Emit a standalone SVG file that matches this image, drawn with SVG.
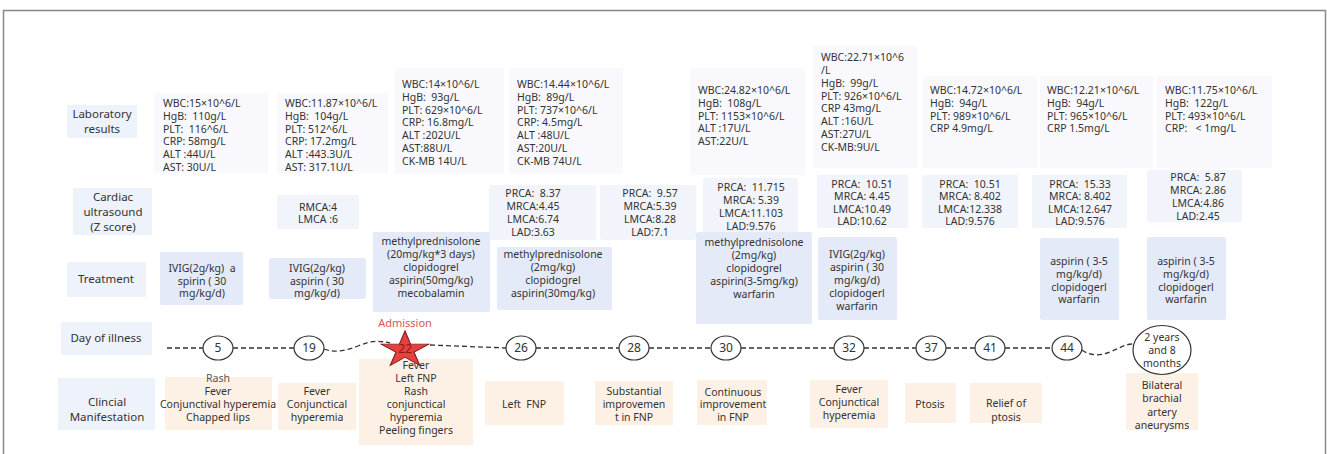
<svg xmlns="http://www.w3.org/2000/svg" width="1327" height="454" viewBox="0 0 1327 454">
<style>
text{font-family:"Noto Sans","Open Sans","Liberation Sans",sans-serif;fill:#333;white-space:pre}
.lbl{font-size:11.5px;text-anchor:middle}
.t{font-size:10.5px}
.c{font-size:10.5px;text-anchor:middle}
.lb{fill:#eef2fa}
.lab{fill:#f8f8fd}
.car{fill:#f2f4fb}
.trt{fill:#e4eaf8}
.man{fill:#fdf1e6}
.day{fill:#fff;stroke:#333;stroke-width:1.2}
.dn{font-size:12px;text-anchor:middle}
.dash{fill:none;stroke:#333;stroke-width:1.3;stroke-dasharray:5 3}
</style>
<rect x="3.5" y="10.5" width="1322" height="500" fill="none" stroke="#888" stroke-width="1.5"/>

<g id="label-lab"><rect class="lb" x="67" y="105" width="70" height="33"/><text class="lbl" x="102" y="118">Laboratory</text><text class="lbl" x="102" y="133">results</text></g>
<g id="label-cardiac"><rect class="lb" x="73" y="188" width="79" height="47"/><text class="lbl" x="113" y="201">Cardiac</text><text class="lbl" x="113" y="216">ultrasound</text><text class="lbl" x="113" y="231">(Z score)</text></g>
<g id="label-treatment"><rect class="lb" x="67" y="262" width="79" height="35"/><text class="lbl" x="106" y="283">Treatment</text></g>
<g id="label-day"><rect class="lb" x="61" y="322" width="91" height="33"/><text class="lbl" x="106" y="342">Day of illness</text></g>
<g id="label-clinical"><rect class="lb" x="58" y="378" width="97" height="52"/><text class="lbl" x="107" y="406">Clincial</text><text class="lbl" x="107" y="421">Manifestation</text></g>

<g id="lab-5"><rect class="lab" x="154" y="93" width="114" height="80"/><text class="t" x="163" y="107">WBC:15×10^6/L</text><text class="t" x="163" y="120">HgB:  110g/L</text><text class="t" x="163" y="133">PLT:  116^6/L</text><text class="t" x="163" y="145">CRP: 58mg/L</text><text class="t" x="163" y="158">ALT :44U/L</text><text class="t" x="163" y="171">AST: 30U/L</text></g>
<g id="lab-19"><rect class="lab" x="277" y="93" width="111" height="80"/><text class="t" x="285" y="107">WBC:11.87×10^6/L</text><text class="t" x="285" y="120">HgB:  104g/L</text><text class="t" x="285" y="133">PLT: 512^6/L</text><text class="t" x="285" y="145">CRP: 17.2mg/L</text><text class="t" x="285" y="158">ALT :443.3U/L</text><text class="t" x="285" y="171">AST: 317.1U/L</text></g>
<g id="lab-22"><rect class="lab" x="395" y="68" width="109" height="106"/><text class="t" x="402" y="88">WBC:14×10^6/L</text><text class="t" x="402" y="101">HgB:  93g/L</text><text class="t" x="402" y="114">PLT: 629×10^6/L</text><text class="t" x="402" y="126">CRP: 16.8mg/L</text><text class="t" x="402" y="139">ALT :202U/L</text><text class="t" x="402" y="152">AST:88U/L</text><text class="t" x="402" y="165">CK-MB 14U/L</text></g>
<g id="lab-26"><rect class="lab" x="509" y="68" width="114" height="106"/><text class="t" x="517" y="88">WBC:14.44×10^6/L</text><text class="t" x="517" y="101">HgB:  89g/L</text><text class="t" x="517" y="114">PLT: 737×10^6/L</text><text class="t" x="517" y="126">CRP: 4.5mg/L</text><text class="t" x="517" y="139">ALT :48U/L</text><text class="t" x="517" y="152">AST:20U/L</text><text class="t" x="517" y="165">CK-MB 74U/L</text></g>
<g id="lab-30"><rect class="lab" x="690" y="68" width="115" height="107"/><text class="t" x="698" y="94">WBC:24.82×10^6/L</text><text class="t" x="698" y="107">HgB:  108g/L</text><text class="t" x="698" y="120">PLT: 1153×10^6/L</text><text class="t" x="698" y="132">ALT :17U/L</text><text class="t" x="698" y="145">AST:22U/L</text></g>
<g id="lab-32"><rect class="lab" x="813" y="46" width="104" height="122"/><text class="t" x="821" y="61">WBC:22.71×10^6</text><text class="t" x="821" y="74">/L</text><text class="t" x="821" y="87">HgB:  99g/L</text><text class="t" x="821" y="100">PLT: 926×10^6/L</text><text class="t" x="821" y="112">CRP 43mg/L</text><text class="t" x="821" y="125">ALT :16U/L</text><text class="t" x="821" y="138">AST:27U/L</text><text class="t" x="821" y="151">CK-MB:9U/L</text></g>
<g id="lab-37"><rect class="lab" x="923" y="76" width="114" height="92"/><text class="t" x="930" y="94">WBC:14.72×10^6/L</text><text class="t" x="930" y="107">HgB:  94g/L</text><text class="t" x="930" y="120">PLT: 989×10^6/L</text><text class="t" x="930" y="132">CRP 4.9mg/L</text></g>
<g id="lab-44"><rect class="lab" x="1040" y="76" width="113" height="92"/><text class="t" x="1047" y="94">WBC:12.21×10^6/L</text><text class="t" x="1047" y="107">HgB:  94g/L</text><text class="t" x="1047" y="120">PLT: 965×10^6/L</text><text class="t" x="1047" y="132">CRP 1.5mg/L</text></g>
<g id="lab-2y8m"><rect class="lab" x="1157" y="76" width="115" height="92"/><text class="t" x="1165" y="94">WBC:11.75×10^6/L</text><text class="t" x="1165" y="107">HgB:  122g/L</text><text class="t" x="1165" y="120">PLT: 493×10^6/L</text><text class="t" x="1165" y="132">CRP:   &lt; 1mg/L</text></g>

<g id="car-19"><rect class="car" x="277" y="195" width="82" height="34" rx="2"/><text class="c" x="318" y="211">RMCA:4</text><text class="c" x="318" y="223">LMCA :6</text></g>
<g id="car-26"><rect class="car" x="489" y="185" width="107" height="55" rx="2"/><text class="c" x="533" y="197">PRCA:  8.37</text><text class="c" x="533" y="210">MRCA:4.45</text><text class="c" x="533" y="223">LMCA:6.74</text><text class="c" x="533" y="236">LAD:3.63</text></g>
<g id="car-28"><rect class="car" x="600" y="185" width="96" height="55" rx="2"/><text class="c" x="650" y="197">PRCA:  9.57</text><text class="c" x="650" y="210">MRCA:5.39</text><text class="c" x="650" y="223">LMCA:8.28</text><text class="c" x="650" y="236">LAD:7.1</text></g>
<g id="car-30"><rect class="car" x="703" y="178" width="95" height="58" rx="2"/><text class="c" x="751" y="191">PRCA:  11.715</text><text class="c" x="751" y="204">MRCA: 5.39</text><text class="c" x="751" y="217">LMCA:11.103</text><text class="c" x="751" y="230">LAD:9.576</text></g>
<g id="car-32"><rect class="car" x="817" y="175" width="91" height="53" rx="2"/><text class="c" x="862" y="188">PRCA:  10.51</text><text class="c" x="862" y="200">MRCA: 4.45</text><text class="c" x="862" y="213">LMCA:10.49</text><text class="c" x="862" y="225">LAD:10.62</text></g>
<g id="car-37"><rect class="car" x="922" y="175" width="96" height="53" rx="2"/><text class="c" x="970" y="188">PRCA:  10.51</text><text class="c" x="970" y="200">MRCA: 8.402</text><text class="c" x="970" y="213">LMCA:12.338</text><text class="c" x="970" y="225">LAD:9.576</text></g>
<g id="car-44"><rect class="car" x="1032" y="175" width="95" height="53" rx="2"/><text class="c" x="1080" y="188">PRCA:  15.33</text><text class="c" x="1080" y="200">MRCA: 8.402</text><text class="c" x="1080" y="213">LMCA:12.647</text><text class="c" x="1080" y="225">LAD:9.576</text></g>
<g id="car-2y8m"><rect class="car" x="1147" y="170" width="95" height="52" rx="2"/><text class="c" x="1198" y="181">PRCA:  5.87</text><text class="c" x="1198" y="194">MRCA: 2.86</text><text class="c" x="1198" y="207">LMCA:4.86</text><text class="c" x="1198" y="220">LAD:2.45</text></g>

<g id="trt-5"><rect class="trt" x="160" y="252" width="83" height="53" rx="2"/><text class="c" x="202" y="272">IVIG(2g/kg)  a</text><text class="c" x="202" y="285">spirin ( 30</text><text class="c" x="202" y="297">mg/kg/d)</text></g>
<g id="trt-19"><rect class="trt" x="269" y="258" width="97" height="41" rx="2"/><text class="c" x="317" y="272">IVIG(2g/kg)</text><text class="c" x="317" y="285">aspirin ( 30</text><text class="c" x="317" y="297">mg/kg/d)</text></g>
<g id="trt-22"><rect class="trt" x="373" y="232" width="117" height="80" rx="2"/><text class="c" x="431" y="245">methylprednisolone</text><text class="c" x="431" y="258">(20mg/kg*3 days)</text><text class="c" x="431" y="271">clopidogrel</text><text class="c" x="431" y="284">aspirin(50mg/kg)</text><text class="c" x="431" y="297">mecobalamin</text></g>
<g id="trt-26"><rect class="trt" x="497" y="247" width="115" height="63" rx="2"/><text class="c" x="553" y="258">methylprednisolone</text><text class="c" x="553" y="271">(2mg/kg)</text><text class="c" x="553" y="284">clopidogrel</text><text class="c" x="553" y="297">aspirin(30mg/kg)</text></g>
<g id="trt-30"><rect class="trt" x="696" y="232" width="116" height="92" rx="2"/><text class="c" x="754" y="246">methylprednisolone</text><text class="c" x="754" y="259">(2mg/kg)</text><text class="c" x="754" y="272">clopidogrel</text><text class="c" x="754" y="285">aspirin(3-5mg/kg)</text><text class="c" x="754" y="298">warfarin</text></g>
<g id="trt-32"><rect class="trt" x="818" y="237" width="79" height="83" rx="2"/><text class="c" x="857" y="258">IVIG(2g/kg)</text><text class="c" x="857" y="271">aspirin ( 30</text><text class="c" x="857" y="284">mg/kg/d)</text><text class="c" x="857" y="297">clopidogerl</text><text class="c" x="857" y="310">warfarin</text></g>
<g id="trt-44"><rect class="trt" x="1040" y="238" width="79" height="82" rx="2"/><text class="c" x="1079" y="265">aspirin ( 3-5</text><text class="c" x="1079" y="278">mg/kg/d)</text><text class="c" x="1079" y="291">clopidogerl</text><text class="c" x="1079" y="303">warfarin</text></g>
<g id="trt-2y8m"><rect class="trt" x="1147" y="237" width="79" height="83" rx="2"/><text class="c" x="1186" y="265">aspirin ( 3-5</text><text class="c" x="1186" y="278">mg/kg/d)</text><text class="c" x="1186" y="291">clopidogerl</text><text class="c" x="1186" y="303">warfarin</text></g>

<g id="man-5"><rect class="man" x="165" y="377" width="107" height="53"/><text class="c" x="218" y="382" style="fill:#555">Rash</text><text class="c" x="218" y="395">Fever</text><text class="c" x="218" y="408">Conjunctival hyperemia</text><text class="c" x="218" y="421">Chapped lips</text></g>
<g id="man-19"><rect class="man" x="278" y="383" width="78" height="47"/><text class="c" x="317" y="395">Fever</text><text class="c" x="317" y="408">Conjunctical</text><text class="c" x="317" y="421">hyperemia</text></g>
<g id="man-22"><rect class="man" x="359" y="359" width="114" height="86"/><text class="c" x="416" y="369">Fever</text><text class="c" x="416" y="382">Left FNP</text><text class="c" x="416" y="395">Rash</text><text class="c" x="416" y="408">conjunctical</text><text class="c" x="416" y="421">hyperemia</text><text class="c" x="416" y="434">Peeling fingers</text></g>
<g id="man-26"><rect class="man" x="485" y="381" width="79" height="44"/><text class="c" x="524" y="408">Left  FNP</text></g>
<g id="man-28"><rect class="man" x="595" y="381" width="78" height="44"/><text class="c" x="634" y="395">Substantial</text><text class="c" x="634" y="408">improvemen</text><text class="c" x="634" y="421">t in FNP</text></g>
<g id="man-30"><rect class="man" x="697" y="380" width="70" height="45"/><text class="c" x="733" y="396">Continuous</text><text class="c" x="733" y="408">improvement</text><text class="c" x="733" y="421">in FNP</text></g>
<g id="man-32"><rect class="man" x="810" y="380" width="78" height="48"/><text class="c" x="849" y="393">Fever</text><text class="c" x="849" y="406">Conjunctical</text><text class="c" x="849" y="419">hyperemia</text></g>
<g id="man-37"><rect class="man" x="905" y="383" width="51" height="40"/><text class="c" x="930" y="408">Ptosis</text></g>
<g id="man-41"><rect class="man" x="970" y="383" width="72" height="40"/><text class="c" x="1006" y="407">Relief of</text><text class="c" x="1006" y="421">ptosis</text></g>
<g id="man-2y8m"><rect class="man" x="1126" y="373" width="72" height="57"/><text class="c" x="1162" y="389">Bilateral</text><text class="c" x="1162" y="402">brachial</text><text class="c" x="1162" y="416">artery</text><text class="c" x="1162" y="429">aneurysms</text></g>

<g id="connectors">
<path class="dash" d="M167,348 H203"/>
<path class="dash" d="M233,348 H294"/>
<path class="dash" d="M324,349 C335,353 345,351 358,346 S376,340 390,343"/>
<path class="dash" d="M430,345 L506,348"/>
<path class="dash" d="M536,348 H619"/>
<path class="dash" d="M649,348 H711"/>
<path class="dash" d="M741,348 H834"/>
<path class="dash" d="M864,348 H916"/>
<path class="dash" d="M946,348 H975"/>
<path class="dash" d="M1005,348 H1052"/>
<path class="dash" d="M1082,350 C1090,356 1100,356 1110,352 S1125,344 1133,344"/>
</g>

<g id="day-5"><ellipse class="day" cx="218" cy="348" rx="15" ry="12"/><text class="dn" x="218" y="352">5</text></g>
<g id="day-19"><ellipse class="day" cx="309" cy="348" rx="15" ry="12"/><text class="dn" x="309" y="352">19</text></g>
<g id="day-22"><text x="405" y="327" style="font-size:11px;text-anchor:middle;fill:#d9534f">Admission</text><polygon transform="translate(405,350) scale(1.25,0.95)" points="0,-20 4.47,-6.15 19.02,-6.18 7.23,2.35 11.76,16.18 0,7.6 -11.76,16.18 -7.23,2.35 -19.02,-6.18 -4.47,-6.15" fill="#e5423f" stroke="#7a1c1c" stroke-width="0.9"/><text class="dn" x="405" y="353" style="fill:#8b1a1a">22</text></g>
<g id="day-26"><ellipse class="day" cx="521" cy="348" rx="15" ry="12"/><text class="dn" x="521" y="352">26</text></g>
<g id="day-28"><ellipse class="day" cx="634" cy="348" rx="15" ry="12"/><text class="dn" x="634" y="352">28</text></g>
<g id="day-30"><ellipse class="day" cx="726" cy="348" rx="15" ry="12"/><text class="dn" x="726" y="352">30</text></g>
<g id="day-32"><ellipse class="day" cx="849" cy="348" rx="15" ry="12"/><text class="dn" x="849" y="352">32</text></g>
<g id="day-37"><ellipse class="day" cx="931" cy="348" rx="15" ry="12"/><text class="dn" x="931" y="352">37</text></g>
<g id="day-41"><ellipse class="day" cx="990" cy="348" rx="15" ry="12"/><text class="dn" x="990" y="352">41</text></g>
<g id="day-44"><ellipse class="day" cx="1067" cy="348" rx="15" ry="12"/><text class="dn" x="1067" y="352">44</text></g>
<g id="day-2y8m"><ellipse class="day" cx="1162" cy="350" rx="29" ry="24.5"/><text class="c" x="1162" y="341">2 years</text><text class="c" x="1162" y="354">and 8</text><text class="c" x="1162" y="367">months</text></g>
</svg>
